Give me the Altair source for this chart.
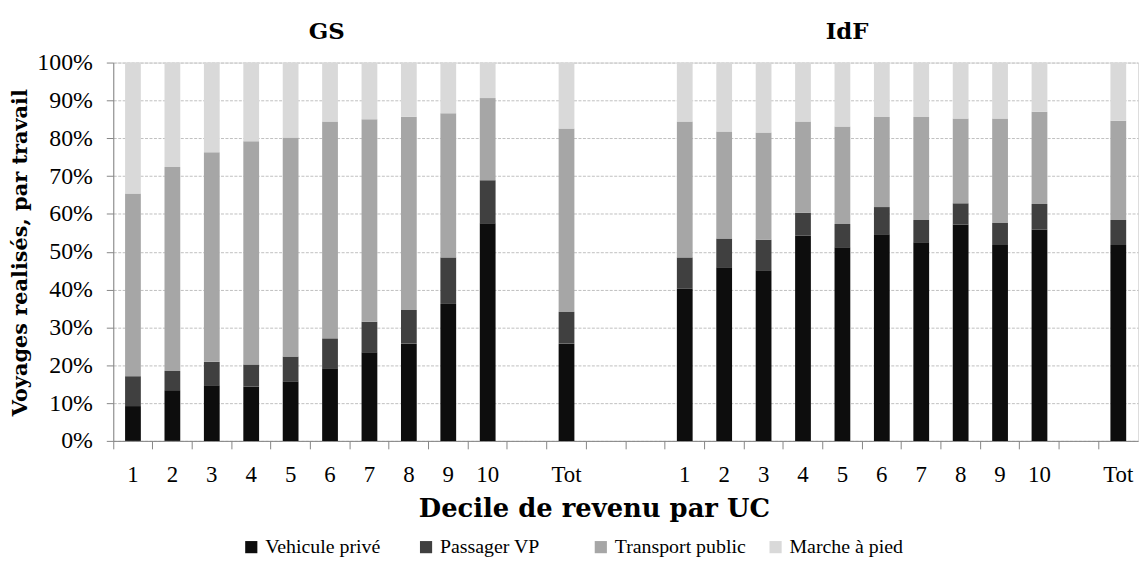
import altair as alt
import pandas as pd

# ---- data (shares in %) ----
groups = ["GS", "IdF"]
deciles = ["1", "2", "3", "4", "5", "6", "7", "8", "9", "10", "Tot"]
modes = ["Vehicule privé", "Passager VP", "Transport public", "Marche à pied"]
colors = ["#0d0d0d", "#404040", "#a6a6a6", "#d9d9d9"]

gs_vehicule = [9.2, 13.4, 14.7, 14.4, 15.6, 19.2, 23.4, 25.7, 36.2, 57.5, 25.7]
gs_passager = [7.9, 5.1, 6.2, 5.8, 6.7, 7.9, 8.1, 8.9, 12.3, 11.4, 8.4]
gs_transport = [48.3, 53.9, 55.4, 59.0, 57.9, 57.3, 53.5, 51.1, 38.1, 21.7, 48.5]
gs_marche = [34.6, 27.6, 23.7, 20.8, 19.8, 15.6, 15.0, 14.3, 13.4, 9.4, 17.4]

idf_vehicule = [40.2, 45.9, 45.1, 54.2, 51.2, 54.6, 52.5, 57.2, 51.8, 55.8, 51.8]
idf_passager = [8.3, 7.6, 8.1, 6.1, 6.1, 7.2, 5.9, 5.6, 5.8, 6.8, 6.6]
idf_transport = [35.9, 28.3, 28.3, 24.1, 25.8, 23.8, 27.2, 22.4, 27.6, 24.4, 26.2]
idf_marche = [15.6, 18.2, 18.5, 15.6, 16.9, 14.4, 14.4, 14.8, 14.8, 13.0, 15.4]

# category order along the x axis (empty slots are gaps)
x_domain = (
    [f"GS|{d}" for d in deciles[:10]] + ["GS|gap1", "GS|Tot", "gap|a", "gap|b"]
    + [f"IdF|{d}" for d in deciles[:10]] + ["IdF|gap2", "IdF|Tot"]
)

series = {
    "GS": [gs_vehicule, gs_passager, gs_transport, gs_marche],
    "IdF": [idf_vehicule, idf_passager, idf_transport, idf_marche],
}
rows = []
for g in groups:
    for mi, m in enumerate(modes):
        for di, d in enumerate(deciles):
            rows.append({"cat": f"{g}|{d}", "mode": m, "order": mi, "value": series[g][mi][di]})
df = pd.DataFrame(rows)

FONT = "Liberation Serif"
BOLD_FONT = "DejaVu Serif"

bars = alt.Chart(df).mark_bar(width={"band": 0.4}).encode(
    x=alt.X(
        "cat:N",
        scale=alt.Scale(domain=x_domain, paddingInner=0, paddingOuter=0),
        sort=x_domain,
        axis=alt.Axis(
            title="Decile de revenu par UC",
            labelExpr="indexof(datum.value,'gap')>=0 ? '' : split(datum.value,'|')[1]",
            labelAngle=0,
            bandPosition=0,
            tickSize=8,
            labelPadding=15,
            labelFont=FONT,
            labelFontSize=23,
            labelColor="#000000",
            titleFont=BOLD_FONT,
            titleFontSize=26,
            titleFontWeight="bold",
            titleColor="#000000",
            titleX=484,
            titleY=68,
            titleBaseline="middle",
            domainColor="#868686",
            tickColor="#868686",
            grid=False,
        ),
    ),
    y=alt.Y(
        "value:Q",
        stack="normalize",
        scale=alt.Scale(domain=[0, 1]),
        axis=alt.Axis(
            title="Voyages realisés, par travail",
            format=".0%",
            values=[i / 10 for i in range(11)],
            tickSize=7,
            labelPadding=14,
            labelFont=FONT,
            labelFontSize=24,
            labelColor="#000000",
            titleFont=BOLD_FONT,
            titleFontSize=21,
            titleFontWeight="bold",
            titleColor="#000000",
            titleX=-93,
            titleY=191,
            titleBaseline="middle",
            domainColor="#868686",
            tickColor="#868686",
            grid=True,
            gridColor="#c0c0c0",
            gridDash=[3, 1.5],
            gridWidth=1,
        ),
    ),
    color=alt.Color(
        "mode:N",
        scale=alt.Scale(domain=modes, range=colors),
        legend=alt.Legend(
            title=None,
            orient="none",
            direction="horizontal",
            legendX=129,
            legendY=478,
            symbolType="square",
            symbolSize=150,
            symbolStrokeWidth=0,
            labelFont=FONT,
            labelFontSize=20,
            labelColor="#000000",
            gridAlign="all",
            columnPadding=19,
            labelOffset=4,
        ),
    ),
    order=alt.Order("order:Q", sort="ascending"),
)

titles_df = pd.DataFrame({"g": groups, "px": [215, 739]})
titles = alt.Chart(titles_df).mark_text(
    font=BOLD_FONT, fontSize=23, fontWeight="bold", baseline="middle", align="center", color="#000000"
).encode(
    x=alt.X("px:Q", scale=None),
    y=alt.value(-31),
    text="g:N",
)

chart = alt.layer(bars, titles).properties(
    width=1032,
    height=381,
    autosize=alt.AutoSizeParams(type="none"),
    padding={"left": 106, "top": 53, "right": 2, "bottom": 117},
).configure_view(stroke=None).configure(background="#ffffff", font=FONT)

chart.save("out.html", embed_options={"renderer": "svg", "actions": False})
